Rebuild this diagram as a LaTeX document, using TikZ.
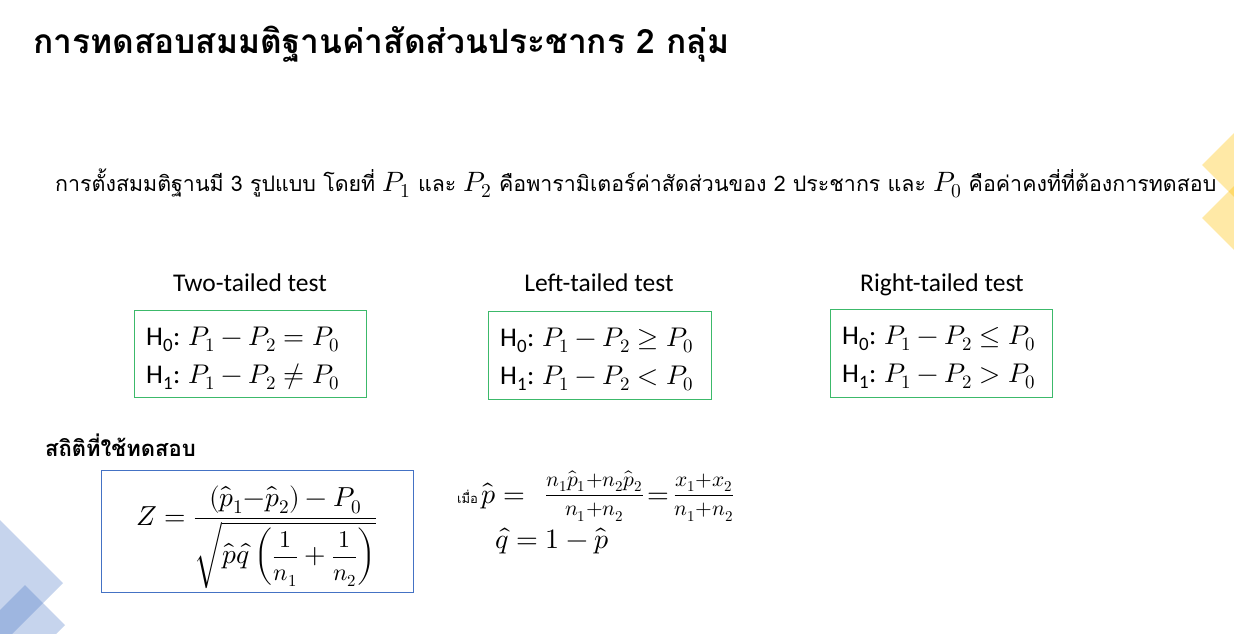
\documentclass[tikz,border=0pt]{standalone}
\usepackage{fontspec}
\usepackage{unicode-math}
\setmainfont{Carlito}
\setmathfont{Latin Modern Math}
\newfontfamily\thai[Script=Thai]{Loma}
\definecolor{boxgreen}{HTML}{3CB96A}
\definecolor{boxblue}{HTML}{4472C4}
\definecolor{decoblue}{HTML}{4472C4}
\definecolor{decoyellow}{HTML}{FFC000}
\newcommand{\mymathbig}[1]{{\fontsize{28}{30}\selectfont$#1$}}
\newcommand{\myfr}[2]{\raisebox{2pt}{\fontsize{21.5}{24}\selectfont$\displaystyle\frac{#1}{#2}$}}
\newcommand{\myinfr}[2]{\hbox{\fontsize{24}{26}\selectfont$\displaystyle\frac{#1}{#2}$}}
\tikzset{
  hypbox/.style={draw=boxgreen, line width=1pt},
  hyptext/.style={anchor=base west, inner sep=0pt, font=\fontsize{27}{38}\selectfont, align=left},
  testlabel/.style={anchor=base, inner sep=0pt, font=\fontsize{25.5}{29}\selectfont},
  decob/.style={fill=decoblue, fill opacity=0.3},
  decoy/.style={fill=decoyellow, fill opacity=0.35},
}
\begin{document}
\begin{tikzpicture}[x=1pt,y=-1pt]
\useasboundingbox (0,0) rectangle (1234,634);
\fill[white] (0,0) rectangle (1234,634);
\begin{scope}
\clip (0,0) rectangle (1234,634);
\fill[decob] (0,520) -- (63,583) -- (0,646) -- (-63,583) -- cycle;
\fill[decob] (25,585) -- (65,625) -- (25,665) -- (-15,625) -- cycle;
\fill[decoy] (1202,165) -- (1240,127) -- (1278,165) -- (1240,203) -- cycle;
\fill[decoy] (1202,218) -- (1240,180) -- (1278,218) -- (1240,256) -- cycle;
\end{scope}

\node[anchor=base west, inner sep=0pt, font=\thai\bfseries\fontsize{33.5}{38}\selectfont] (title) at (33,54) {การทดสอบสมมติฐานค่าสัดส่วนประชากร 2 กลุ่ม};

\node[anchor=base west, inner sep=0pt, font=\thai\fontsize{21.4}{24}\selectfont] (intro) at (55,191)
 {การตั้งสมมติฐานมี 3 รูปแบบ โดยที่ \mymathbig{P_1} และ \mymathbig{P_2} คือพารามิเตอร์ค่าสัดส่วนของ 2 ประชากร และ \mymathbig{P_0} คือค่าคงที่ที่ต้องการทดสอบ};

\node[testlabel] (lab1) at (250,291) {Two-tailed test};
\node[testlabel] (lab2) at (599,291) {Left-tailed test};
\node[testlabel] (lab3) at (942,291) {Right-tailed test};

\draw[hypbox] (134,310) rectangle (366,397);
\draw[hypbox] (488,311) rectangle (711,399);
\draw[hypbox] (830,309) rectangle (1052,397);

\node[hyptext] (h0a) at (146,345) {H\textsubscript{0}: $P_1-P_2=P_0$};
\node[hyptext] (h1a) at (146,383) {H\textsubscript{1}: $P_1-P_2\neq P_0$};
\node[hyptext] (h0b) at (500,346) {H\textsubscript{0}: $P_1-P_2\geq P_0$};
\node[hyptext] (h1b) at (500,384) {H\textsubscript{1}: $P_1-P_2< P_0$};
\node[hyptext] (h0c) at (842,344) {H\textsubscript{0}: $P_1-P_2\leq P_0$};
\node[hyptext] (h1c) at (842,382) {H\textsubscript{1}: $P_1-P_2> P_0$};

\node[anchor=base west, inner sep=0pt, font=\thai\bfseries\fontsize{22}{25}\selectfont] (stat) at (45,456) {สถิติที่ใช้ทดสอบ};

\draw[draw=boxblue, line width=1pt] (101,470) rectangle (413,592);
\node[anchor=base west, inner sep=0pt, font=\fontsize{27.5}{30}\selectfont] (zf) at (136,525)
 {$\displaystyle Z=\frac{(\hat{p}_1{-}\hat{p}_2)-P_0}{\sqrt{\hat{p}\hat{q}\left(\myinfr{1}{n_1}+\myinfr{1}{n_2}\right)}}$};

\node[anchor=base west, inner sep=0pt, font=\thai\fontsize{13}{15}\selectfont] (when) at (457,503) {เมื่อ};
\node[anchor=base west, inner sep=0pt, font=\fontsize{28}{30}\selectfont] (phat) at (481,503)
 {$\hat{p}={}$\hspace{12pt}\myfr{n_1\hat{p}_1{+}n_2\hat{p}_2}{n_1{+}n_2}\hspace{4pt}$=$\hspace{4pt}\myfr{x_1{+}x_2}{n_1{+}n_2}};
\node[anchor=base west, inner sep=0pt, font=\fontsize{28}{30}\selectfont] (qhat) at (495,548)
 {$\hat{q}=1-\hat{p}$};
\end{tikzpicture}
\end{document}
